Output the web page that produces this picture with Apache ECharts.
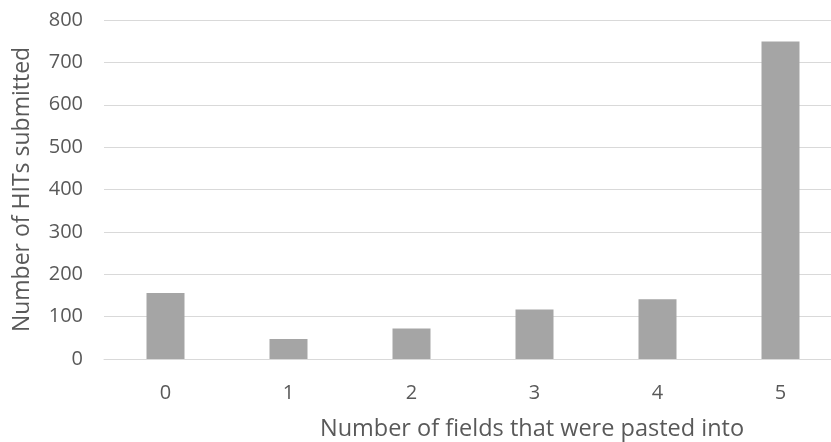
<!DOCTYPE html>
<html>
<head>
<meta charset="utf-8">
<script src="https://cdn.jsdelivr.net/npm/echarts@6/dist/echarts.min.js"></script>
<style>
  html, body { margin: 0; padding: 0; background: #ffffff; }
  #chart { width: 831px; height: 442px; }
</style>
</head>
<body>
<div id="chart"></div>
<script>
// Fields pasted into per HIT, and how many HITs fall in each bucket
const categories = ['0', '1', '2', '3', '4', '5'];
const hitCounts = [156, 47, 72, 117, 141, 749];
const yTicks = { min: 0, max: 800, interval: 100 };

const textColor = '#595959';
const fontFamily = '"Open Sans", "Noto Sans", sans-serif';

const chart = echarts.init(document.getElementById('chart'), null, { renderer: 'canvas' });
chart.setOption({
  animation: false,
  backgroundColor: '#ffffff',
  // the plot area runs past the right edge of the canvas
  grid: { left: 104, top: 20, width: 738, height: 339, outerBoundsMode: 'none', containLabel: false },
  xAxis: {
    type: 'category',
    data: categories,
    name: 'Number of fields that were pasted into',
    nameLocation: 'middle',
    nameGap: 58,
    // left padding nudges the title right, toward the middle of the visible area
    nameTextStyle: { color: textColor, fontSize: 23.5, fontFamily: fontFamily, padding: [0, 0, 0, 118] },
    axisLine: { show: true, lineStyle: { color: '#d9d9d9', width: 1 } },
    axisTick: { show: false },
    axisLabel: { color: textColor, fontSize: 20, fontFamily: fontFamily, margin: 24 },
    splitLine: { show: false }
  },
  yAxis: {
    type: 'value',
    min: yTicks.min,
    max: yTicks.max,
    interval: yTicks.interval,
    name: 'Number of HITs submitted',
    nameLocation: 'middle',
    nameGap: 70,
    nameTextStyle: { color: textColor, fontSize: 23, fontFamily: fontFamily },
    axisLine: { show: false },
    axisTick: { show: false },
    axisLabel: { color: textColor, fontSize: 20, fontFamily: fontFamily, margin: 21 },
    splitLine: { show: true, lineStyle: { color: '#d9d9d9', width: 1 } }
  },
  series: [{
    type: 'bar',
    data: hitCounts,
    barWidth: 38,
    itemStyle: { color: '#a5a5a5' }
  }]
});
</script>
</body>
</html>
